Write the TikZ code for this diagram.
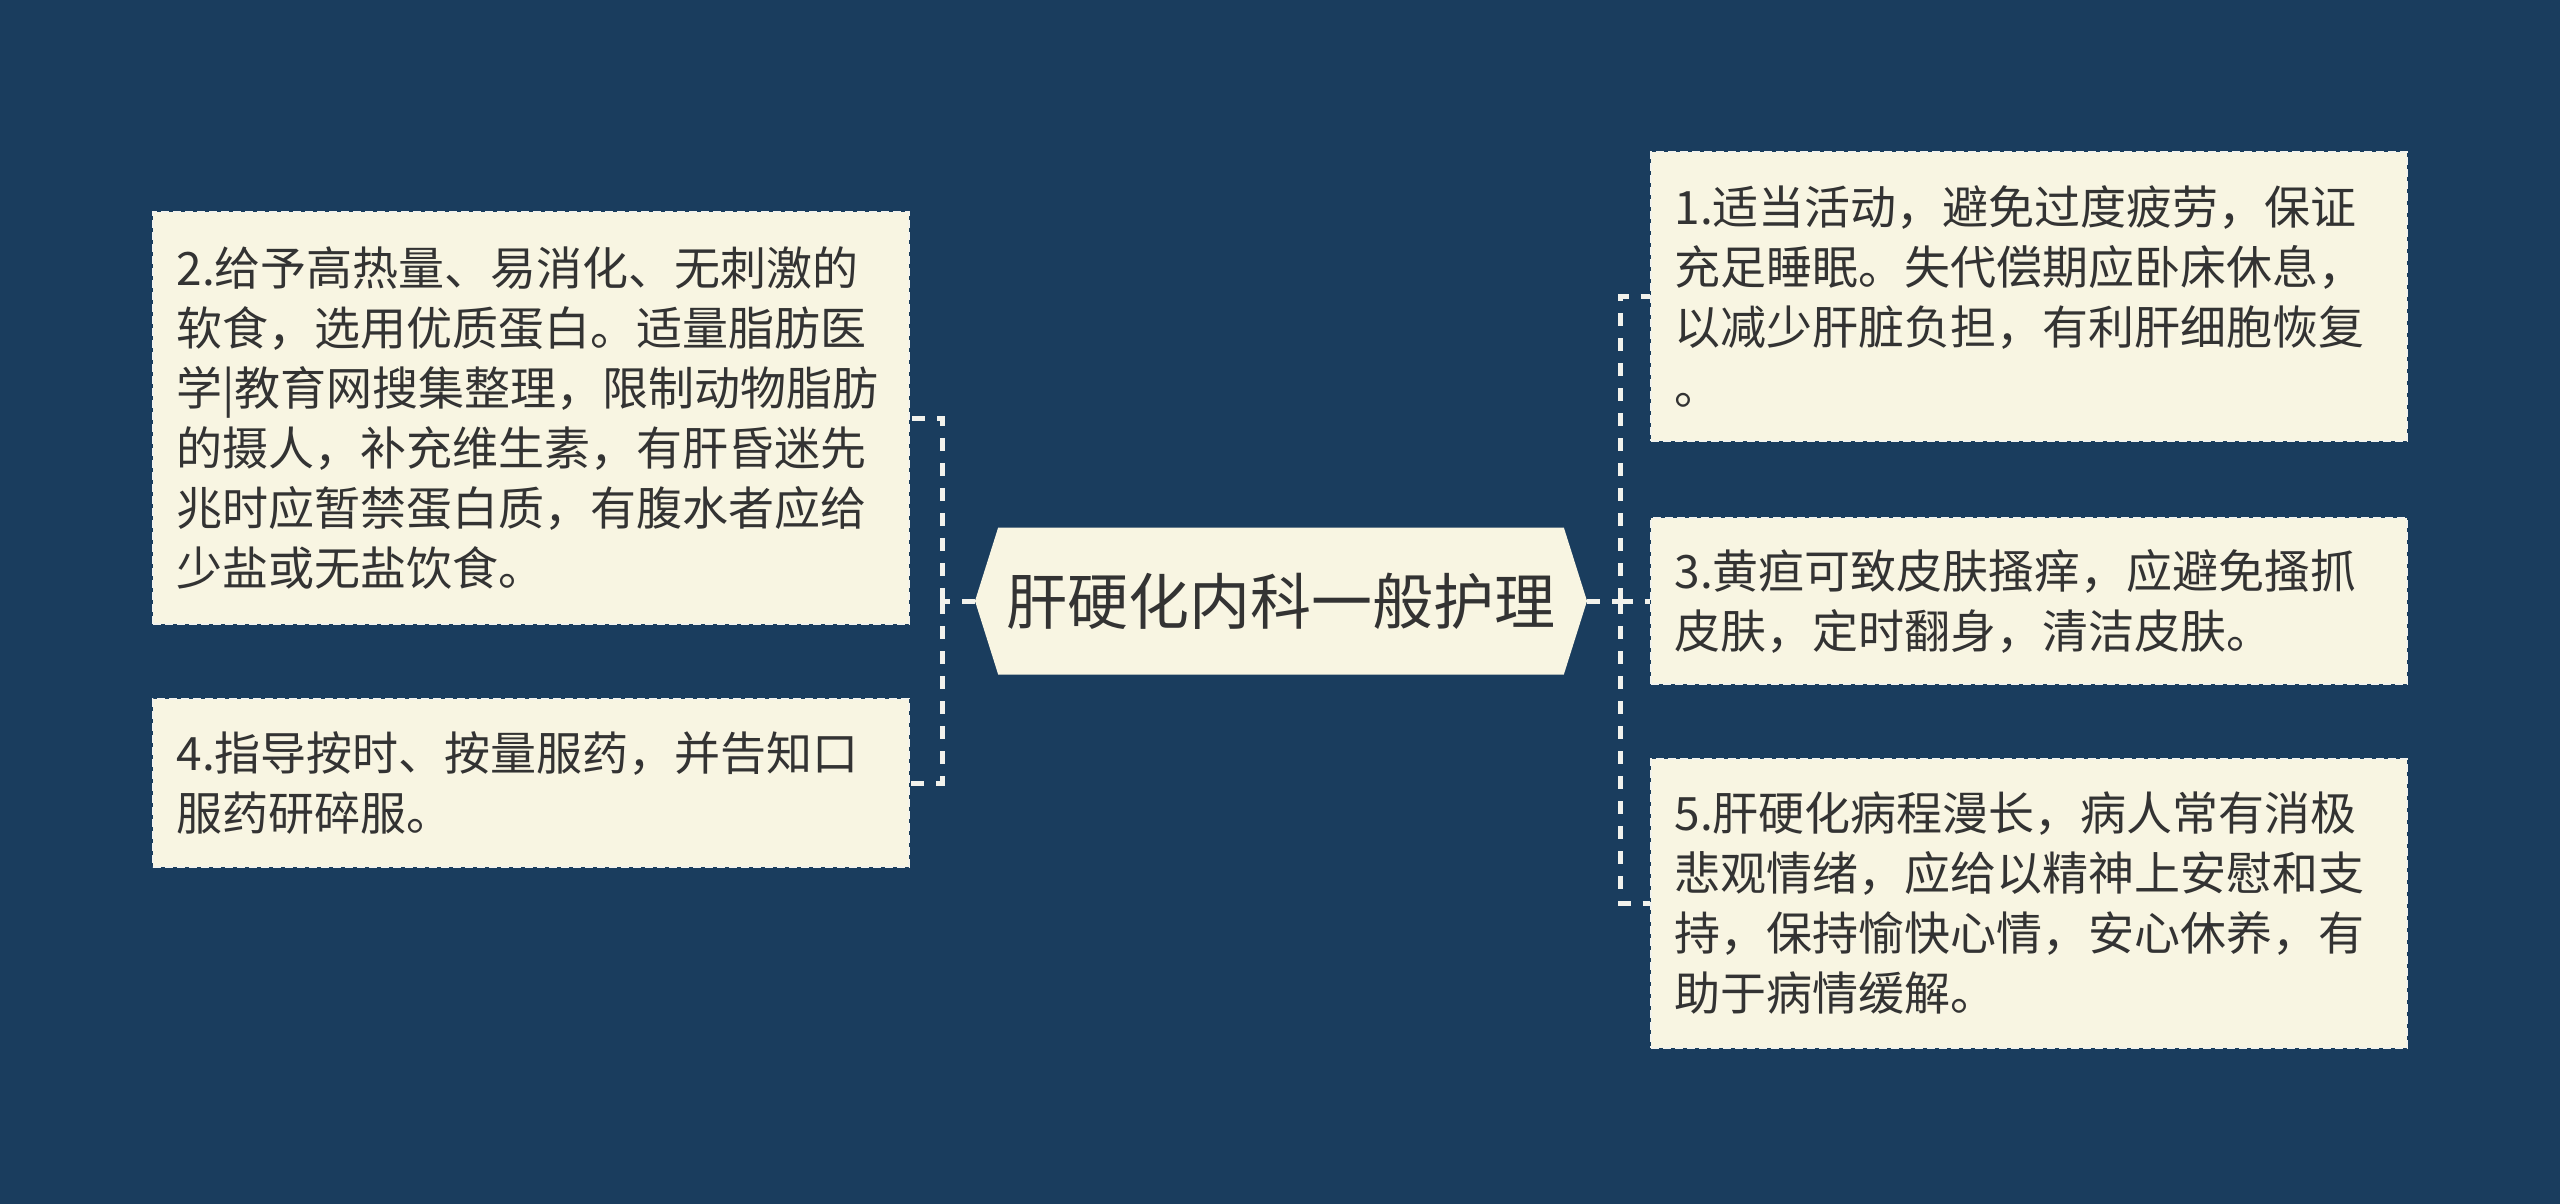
\documentclass[tikz,border=0pt]{standalone}
\usepackage{fontspec}
\setmainfont{Noto Sans CJK SC}
\usetikzlibrary{shapes.symbols}

\definecolor{bakgrunn}{HTML}{1A3D5E}
\definecolor{papir}{HTML}{F8F5E2}
\definecolor{skrift}{HTML}{333333}
\definecolor{strek}{HTML}{F2F2EC}

\tikzset{
  boks/.style={draw=strek, line width=1pt, dash pattern=on 4pt off 2pt,
    fill=papir, text=skrift, align=left, text width=354pt, inner xsep=12pt,
    font=\fontsize{23pt}{30pt}\selectfont},
  hoved/.style={signal, signal to=west and east, signal pointer angle=145,
    fill=papir, text=skrift, minimum width=306pt, minimum height=73.5pt,
    inner xsep=4pt, font=\fontsize{30.5pt}{36pt}\selectfont},
  linje/.style={draw=strek, line width=2.5pt, dash pattern=on 6.5pt off 6pt}
}

\begin{document}
\begin{tikzpicture}[x=0.5pt,y=-0.5pt]
  % Bakgrunn
  \fill[bakgrunn] (0,0) rectangle (2560,1204);
  \useasboundingbox (0,0) rectangle (2560,1204);

  % Hovedemne
  \node[hoved] (hoved) at (1281,601) {肝硬化内科一般护理};

  % Venstre grener
  \node[boks, minimum height=206pt] (b2) at (530.5,418)
    {2.给予高热量、易消化、无刺激的\\软食，选用优质蛋白。适量脂肪医\\学|教育网搜集整理，限制动物脂肪\\的摄人，补充维生素，有肝昏迷先\\兆时应暂禁蛋白质，有腹水者应给\\少盐或无盐饮食。};
  \node[boks, minimum height=84pt] (b4) at (530.5,783)
    {4.指导按时、按量服药，并告知口\\服药研碎服。};

  % Høyre grener
  \node[boks, minimum height=144.5pt] (b1) at (2028.5,296.5)
    {1.适当活动，避免过度疲劳，保证\\充足睡眠。失代偿期应卧床休息，\\以减少肝脏负担，有利肝细胞恢复\\。};
  \node[boks, minimum height=83pt] (b3) at (2028.5,601)
    {3.黄疸可致皮肤搔痒，应避免搔抓\\皮肤，定时翻身，清洁皮肤。};
  \node[boks, minimum height=144.5pt] (b5) at (2028.5,903.5)
    {5.肝硬化病程漫长，病人常有消极\\悲观情绪，应给以精神上安慰和支\\持，保持愉快心情，安心休养，有\\助于病情缓解。};

  % Forbindelser
  \coordinate (venstre) at (942,601);
  \coordinate (hoyre) at (1620,601);
  \draw[linje] (hoved.west) -- (venstre);
  \draw[linje] (hoved.east) -- (hoyre);
  \foreach \b in {b2,b4} {
    \draw[linje] (venstre) |- (\b.east);
  }
  \foreach \b in {b1,b3,b5} {
    \draw[linje] (hoyre) |- (\b.west);
  }
\end{tikzpicture}
\end{document}
